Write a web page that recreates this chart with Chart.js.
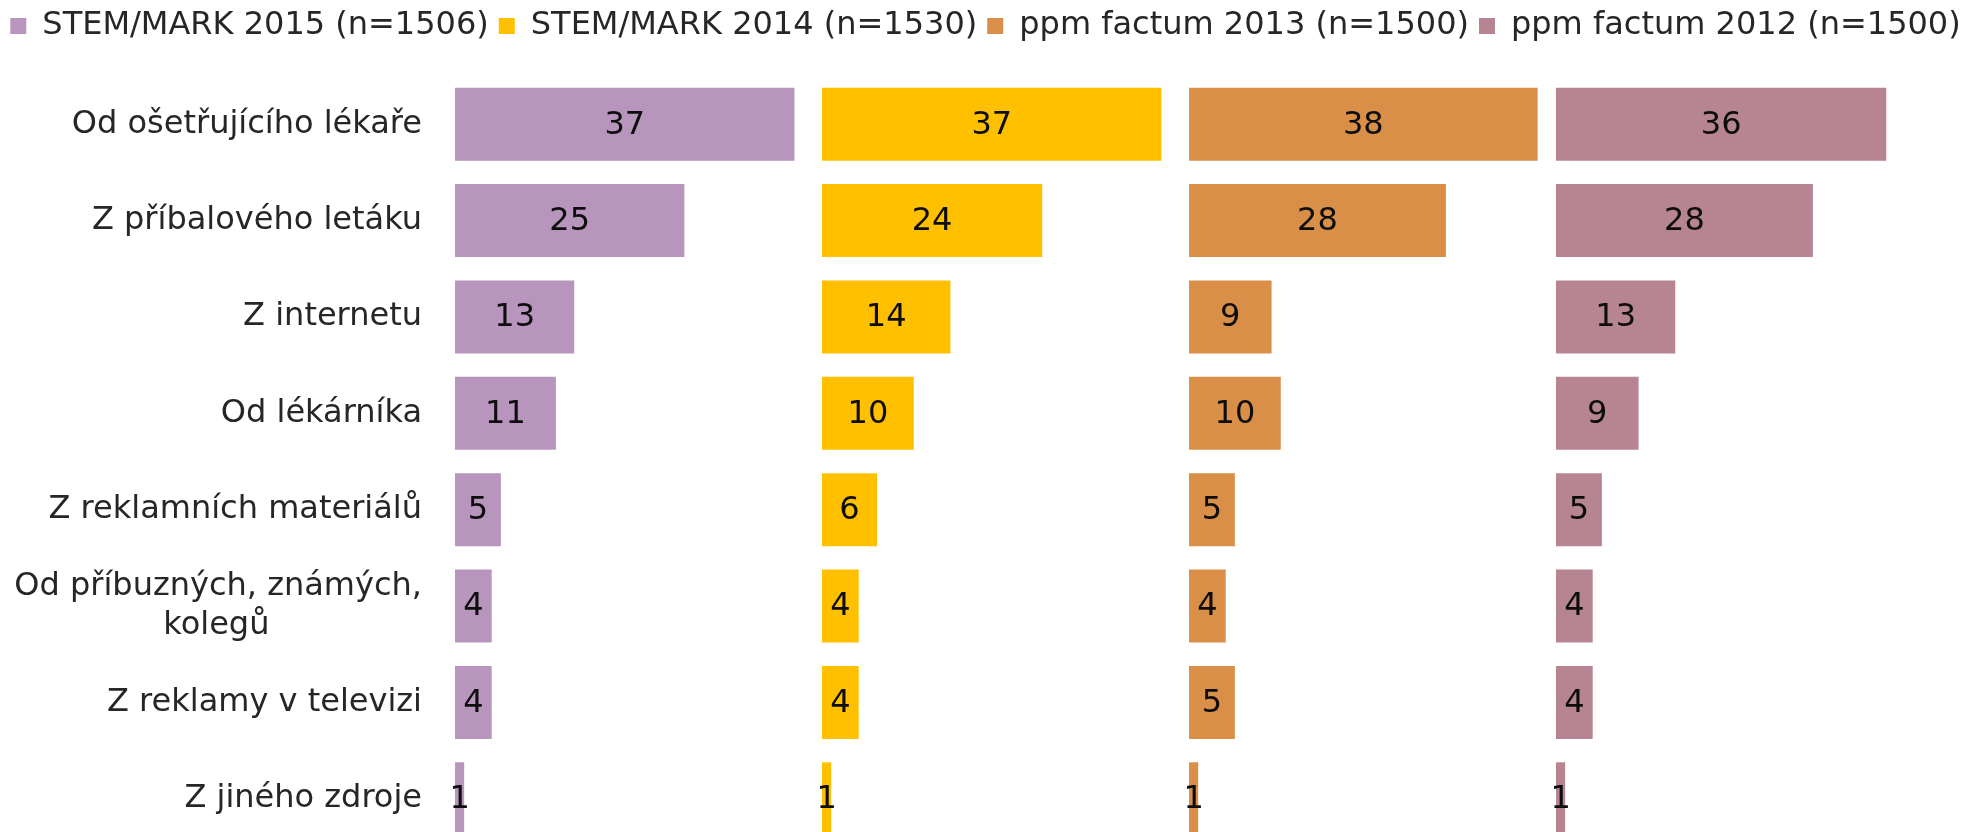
<!DOCTYPE html>
<html>
<head>
<meta charset="utf-8">
<script src="https://cdn.jsdelivr.net/npm/chart.js@4.4.1/dist/chart.umd.min.js"></script>
<style>
html,body{margin:0;padding:0;background:#ffffff;overflow:hidden;}
#wrap{position:relative;width:1971px;height:847px;}
</style>
</head>
<body>
<div id="wrap"><canvas id="c" width="1971" height="847"></canvas></div>
<script>
// ---- data ----
const categories = [
  'Od ošetřujícího lékaře',
  'Z příbalového letáku',
  'Z internetu',
  'Od lékárníka',
  'Z reklamních materiálů',
  ['Od příbuzných, známých,', 'kolegů'],
  'Z reklamy v televizi',
  'Z jiného zdroje'
];
const seriesNames = [
  'STEM/MARK 2015 (n=1506)',
  'STEM/MARK 2014 (n=1530)',
  'ppm factum 2013 (n=1500)',
  'ppm factum 2012 (n=1500)'
];
const stemMark2015 = [37, 25, 13, 11, 5, 4, 4, 1];
const stemMark2014 = [37, 24, 14, 10, 6, 4, 4, 1];
const ppmFactum2013 = [38, 28, 9, 10, 5, 4, 5, 1];
const ppmFactum2012 = [36, 28, 13, 9, 5, 4, 4, 1];
const panelMax = 40;

// ---- styles ----
const FONT = 'DejaVu Sans';
const FSIZE = 32;
const colors = ['#B895BD', '#FFC000', '#D98F47', '#B78592'];
const seriesValues = [stemMark2015, stemMark2014, ppmFactum2013, ppmFactum2012];
const axisIds = ['x1', 'x2', 'x3', 'x4'];

const measureCtx = document.createElement('canvas').getContext('2d');
measureCtx.font = FSIZE + 'px "' + FONT + '"';
function centerLines(lines) {
  const widths = lines.map(l => measureCtx.measureText(l).width);
  const maxW = Math.max(...widths);
  const sp = measureCtx.measureText('\u00A0').width;
  return lines.map((l, i) => l + '\u00A0'.repeat(Math.round((maxW - widths[i]) / 2 / sp)));
}

const valueLabels = {
  id: 'valueLabels',
  afterDatasetsDraw(chart) {
    const ctx = chart.ctx;
    ctx.save();
    ctx.font = FSIZE + 'px "' + FONT + '"';
    ctx.fillStyle = '#0d0d0d';
    ctx.textAlign = 'center';
    ctx.textBaseline = 'middle';
    chart.data.datasets.forEach((ds, i) => {
      const meta = chart.getDatasetMeta(i);
      meta.data.forEach((bar, j) => {
        const p = bar.getProps(['x', 'y', 'base'], true);
        ctx.fillText(String(ds.data[j]), (p.x + p.base) / 2, p.y + 1);
      });
    });
    ctx.restore();
  }
};

const legendSpace = {
  id: 'legendSpace',
  beforeLayout(chart) {
    const lg = chart.legend;
    if (lg && !lg._patched) {
      const orig = lg.fit;
      lg.fit = function () { orig.call(this); this.height += 24; };
      lg._patched = true;
    }
  }
};

const scales = {
  y: {
    type: 'category',
    position: 'left',
    grid: { display: false, drawTicks: false },
    border: { display: false },
    ticks: {
      color: '#262626',
      font: { family: FONT, size: FSIZE },
      padding: 33,
      autoSkip: false,
      callback: function (value) {
        const lab = this.getLabelForValue(value);
        return Array.isArray(lab) ? centerLines(lab) : lab;
      }
    },
    afterFit(scale) {
      scale.width = 455;
      scale.paddingTop = 0;
      scale.paddingBottom = 0;
    }
  },
  yRight: {
    type: 'linear',
    position: 'right',
    grid: { display: false, drawTicks: false },
    border: { display: false },
    ticks: { display: false },
    afterFit(scale) { scale.width = 48; }
  }
};
axisIds.forEach(id => {
  scales[id] = {
    type: 'linear',
    axis: 'x',
    position: 'bottom',
    stack: 'panels',
    stackWeight: 1,
    min: 0,
    max: panelMax,
    display: false
  };
});

Chart.defaults.font.family = FONT;
Chart.defaults.font.size = FSIZE;
Chart.defaults.color = '#262626';

new Chart(document.getElementById('c'), {
  type: 'bar',
  data: {
    labels: categories,
    datasets: seriesValues.map((vals, i) => ({
      label: seriesNames[i],
      data: vals,
      xAxisID: axisIds[i],
      yAxisID: 'y',
      backgroundColor: colors[i],
      borderWidth: 0,
      grouped: false,
      barPercentage: 1,
      categoryPercentage: 0.758
    }))
  },
  options: {
    indexAxis: 'y',
    responsive: false,
    animation: false,
    layout: { padding: 0 },
    scales: scales,
    plugins: {
      legend: {
        position: 'top',
        align: 'center',
        labels: {
          boxWidth: 16,
          boxHeight: 16,
          padding: 10,
          color: '#262626',
          font: { family: FONT, size: FSIZE }
        }
      },
      tooltip: { enabled: false }
    }
  },
  plugins: [valueLabels, legendSpace]
});
</script>
</body>
</html>
